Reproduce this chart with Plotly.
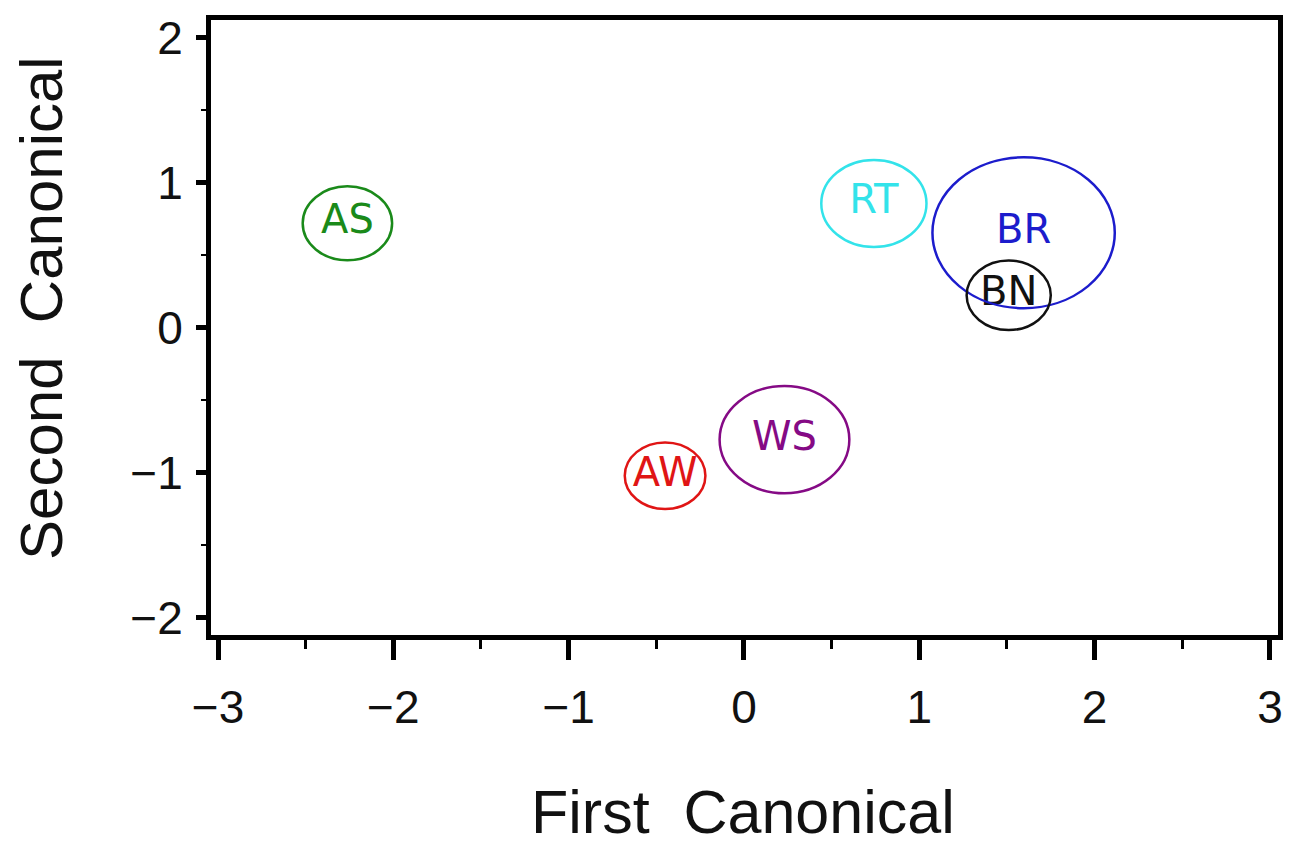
import plotly.graph_objects as go

groups = ["AS", "RT", "BR", "BN", "WS", "AW"]
center_x = [-2.262, 0.741, 1.595, 1.510, 0.231, -0.450]
center_y = [0.718, 0.855, 0.653, 0.222, -0.773, -1.022]
radius = [0.255, 0.30, 0.52, 0.24, 0.37, 0.23]
colors = ["#1a8a1a", "#33e3ea", "#1c1ccc", "#111111", "#850a85", "#e01515"]

x_ticks = [-3, -2, -1, 0, 1, 2, 3]
x_ticktext = ["\u22123", "\u22122", "\u22121", "0", "1", "2", "3"]
y_ticks = [-2, -1, 0, 1, 2]
y_ticktext = ["\u22122", "\u22121", "0", "1", "2"]

fig = go.Figure()

# label text at circle centers
fig.add_trace(go.Scatter(
    x=center_x, y=center_y, mode="text", text=groups,
    textfont=dict(family="DejaVu Sans", size=40, color=colors),
    textposition="middle center", hoverinfo="skip", showlegend=False,
))

shapes = []
for cx, cy, r, c in zip(center_x, center_y, radius, colors):
    shapes.append(dict(type="circle", xref="x", yref="y",
                       x0=cx - r, x1=cx + r, y0=cy - r, y1=cy + r,
                       line=dict(color=c, width=2.5)))

axis_font = dict(family="Liberation Sans", size=46, color="#111111")

fig.update_layout(
    width=1295, height=845,
    margin=dict(l=211, r=16, t=14, b=210),
    paper_bgcolor="white", plot_bgcolor="white",
    shapes=shapes,
    showlegend=False,
    xaxis=dict(
        range=[-3.04, 3.046], showgrid=False, zeroline=False,
        showline=True, linecolor="black", linewidth=5, mirror=True,
        ticks="outside", ticklen=20, tickwidth=5, tickcolor="black",
        tickvals=x_ticks, ticktext=x_ticktext, tickfont=axis_font,
        ticklabelstandoff=8,
        minor=dict(dtick=0.5, tick0=0, ticks="outside", ticklen=9, tickwidth=3,
                   tickcolor="black", showgrid=False),
    ),
    yaxis=dict(
        range=[-2.12, 2.12], showgrid=False, zeroline=False,
        showline=True, linecolor="black", linewidth=5, mirror=True,
        ticks="outside", ticklen=10, tickwidth=5, tickcolor="black",
        tickvals=y_ticks, ticktext=y_ticktext, tickfont=axis_font,
        ticklabelstandoff=4,
        minor=dict(dtick=0.5, tick0=0, ticks="outside", ticklen=5, tickwidth=2,
                   tickcolor="black", showgrid=False),
    ),
    annotations=[
        dict(text="First  Canonical", xref="paper", yref="paper",
             x=0.499, y=-0.288, xanchor="center", yanchor="middle",
             showarrow=False, font=dict(family="Liberation Sans", size=61, color="#111111")),
        dict(text="Second  Canonical", xref="paper", yref="paper",
             x=-0.1588, y=0.531, xanchor="center", yanchor="middle", textangle=-90,
             showarrow=False, font=dict(family="Liberation Sans", size=60, color="#111111")),
    ],
)

fig.write_html("out.html")
